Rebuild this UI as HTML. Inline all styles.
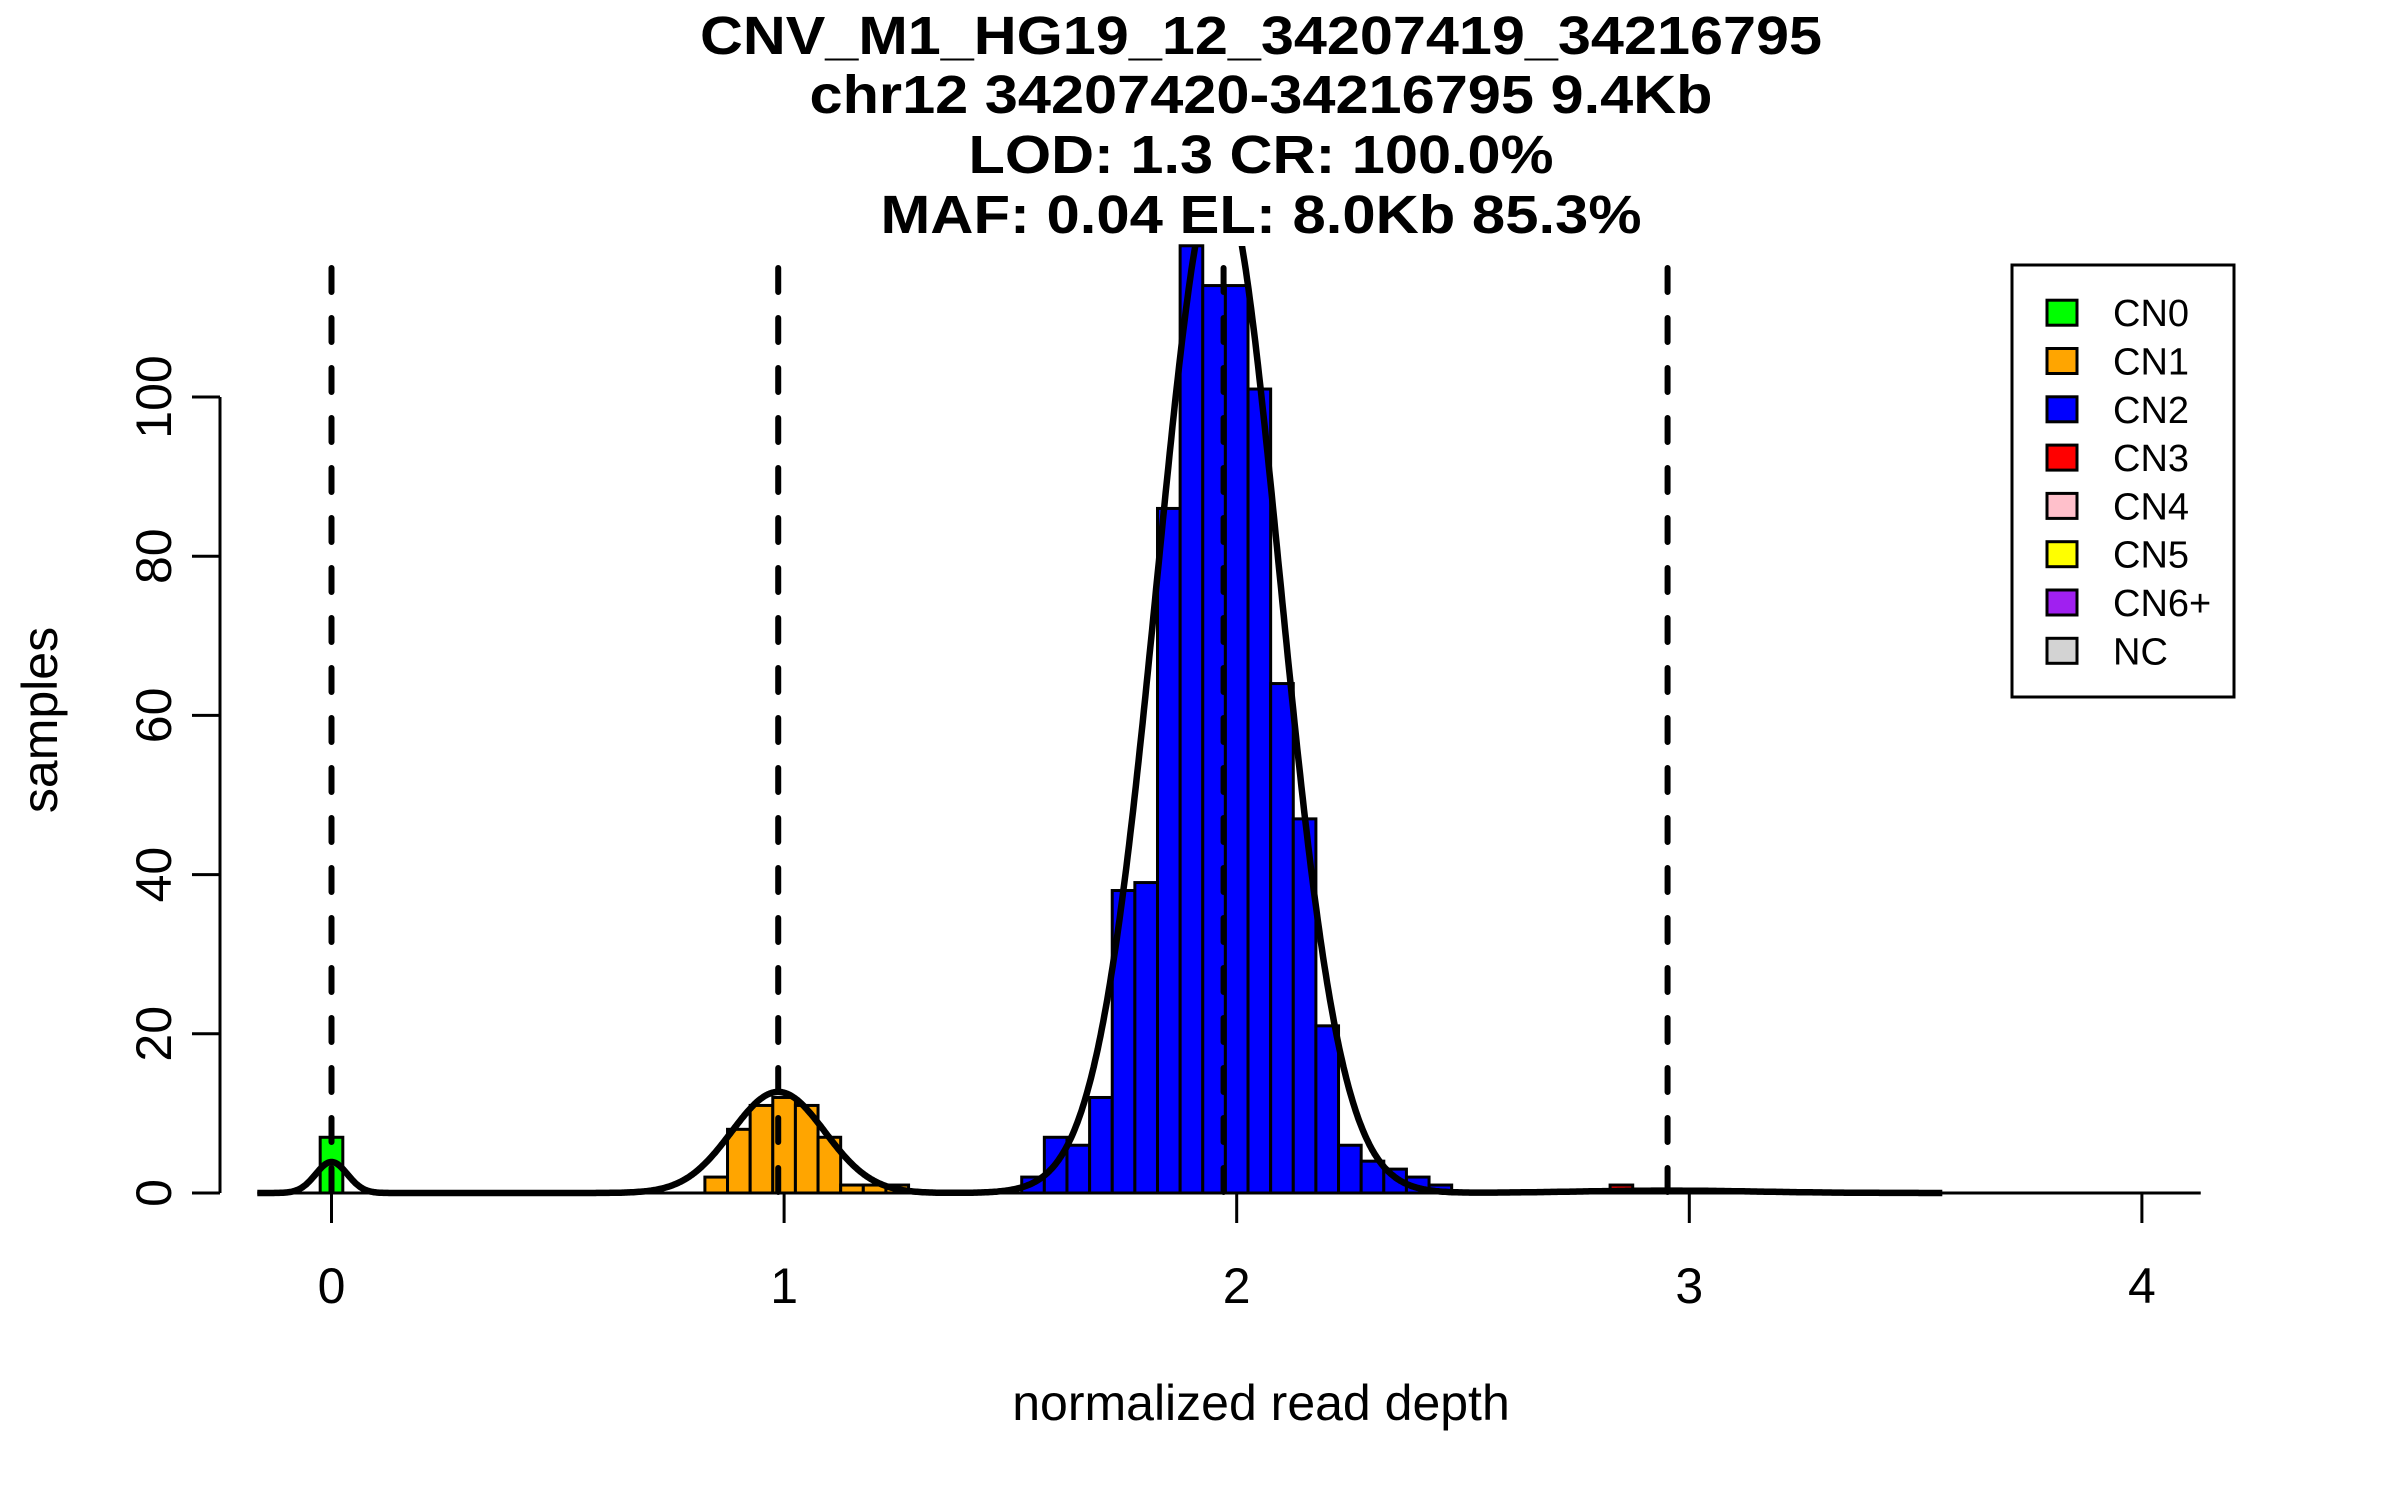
<!DOCTYPE html>
<html><head><meta charset="utf-8"><style>
html,body{margin:0;padding:0;background:#fff;}
svg{display:block;font-family:"Liberation Sans",Arial,sans-serif;}
</style></head><body>
<svg id="chart" width="2400" height="1500" viewBox="0 0 2400 1500" xmlns="http://www.w3.org/2000/svg">
<rect width="2400" height="1500" fill="#fff"/>
<g font-weight="bold" font-size="54" text-anchor="middle" fill="#000">
<text x="1261" y="54" textLength="1122" lengthAdjust="spacingAndGlyphs">CNV_M1_HG19_12_34207419_34216795</text>
<text x="1261" y="113" textLength="903" lengthAdjust="spacingAndGlyphs">chr12 34207420-34216795 9.4Kb</text>
<text x="1261" y="173" textLength="585" lengthAdjust="spacingAndGlyphs">LOD: 1.3 CR: 100.0%</text>
<text x="1261" y="233" textLength="761" lengthAdjust="spacingAndGlyphs">MAF: 0.04 EL: 8.0Kb 85.3%</text>
</g>
<defs><clipPath id="pclip"><rect x="0" y="246" width="2400" height="1000"/></clipPath></defs>
<g id="bars"></g>
<g id="dens"></g>
<g id="vlines"></g>
<g id="axes"></g>
<text x="1261" y="1420" font-size="50" text-anchor="middle">normalized read depth</text>
<text transform="translate(57,720) rotate(-90)" font-size="50" text-anchor="middle">samples</text>
<g>
<rect x="2012" y="265" width="222" height="432" fill="#fff" stroke="#000" stroke-width="3"/>
<g id="legend"></g>
</g>
</svg>
<script>
const binWidth = 0.05;
const cn0Start = -0.025;
const cn0Counts = [7];
const cn1Start = 0.825;
const cn1Counts = [2, 8, 11, 12, 11, 7, 1, 1, 1];
const cn2Start = 1.525;
const cn2Counts = [2, 7, 6, 12, 38, 39, 86, 119, 114, 114, 101, 64, 47, 21, 6, 4, 3, 2, 1];
const cn3Start = 2.825;
const cn3Counts = [1];
const compMeans = [0, 0.987, 1.96, 2.95];
const compSd = [0.035, 0.103, 0.135, 0.2];
const compAmp = [3.9, 12.7, 128, 0.3];
const cnLines = [0, 0.987, 1.971, 2.952];
const xTicks = [0, 1, 2, 3, 4];
const yTicks = [0, 20, 40, 60, 80, 100];
const legendLabels = ["CN0","CN1","CN2","CN3","CN4","CN5","CN6+","NC"];
const legendColors = ["#00ff00","#ffa500","#0000ff","#ff0000","#ffc0cb","#ffff00","#a020f0","#d3d3d3"];

const NS = "http://www.w3.org/2000/svg";
const X0 = 331.5, XU = 452.6, Y0 = 1193, YU = 7.96;
const xs = v => X0 + v * XU;
const ys = v => Y0 - v * YU;
function mk(tag, attrs, parent){ const e = document.createElementNS(NS, tag); for (const k in attrs) e.setAttribute(k, attrs[k]); parent.appendChild(e); return e; }

const bars = document.getElementById('bars');
function drawHist(start, counts, color, cname){
  counts.forEach((c, i) => {
    const x1 = xs(start + i * binWidth), x2 = xs(start + (i + 1) * binWidth);
    const r = mk('rect', {x: x1, y: ys(c), width: x2 - x1, height: ys(0) - ys(c), fill: color, stroke: '#000', 'stroke-width': 3}, bars);
    
    
  });
}
drawHist(cn0Start, cn0Counts, '#00ff00', 'cn0');
drawHist(cn1Start, cn1Counts, '#ffa500', 'cn1');
drawHist(cn2Start, cn2Counts, '#0000ff', 'cn2');
drawHist(cn3Start, cn3Counts, '#ff0000', 'cn3');

const dens = document.getElementById('dens');
const base = mk('line', {x1: xs(-0.164), x2: xs(4.13), y1: ys(0), y2: ys(0), stroke: '#000', 'stroke-width': 3}, dens);


let d = '';
for (let v = -0.164; v <= 3.56; v += 0.003) {
  let s = 0;
  for (let k = 0; k < compMeans.length; k++) s += compAmp[k] * Math.exp(-Math.pow(v - compMeans[k], 2) / (2 * compSd[k] * compSd[k]));
  d += (d ? 'L' : 'M') + xs(v).toFixed(1) + ' ' + ys(s).toFixed(1);
}
const curve = mk('path', {d: d, fill: 'none', stroke: '#000', 'stroke-width': 6.5, 'stroke-linejoin': 'round', 'clip-path': 'url(#pclip)'}, dens);



const vl = document.getElementById('vlines');
cnLines.forEach(v => {
  const l = mk('line', {x1: xs(v), x2: xs(v), y1: 268, y2: ys(0), stroke: '#000', 'stroke-width': 6, 'stroke-dasharray': '24 26', 'stroke-linecap': 'round'}, vl);
  
  
});

const ax = document.getElementById('axes');
const yl = mk('line', {x1: 220, x2: 220, y1: ys(100), y2: ys(0), stroke: '#000', 'stroke-width': 3}, ax);


yTicks.forEach(t => {
  const tk = mk('line', {x1: 192, x2: 220, y1: ys(t), y2: ys(t), stroke: '#000', 'stroke-width': 3}, ax);
  
  
  const tx = mk('text', {transform: 'translate(171,' + ys(t) + ') rotate(-90)', 'font-size': 50, 'text-anchor': 'middle'}, ax);
  tx.textContent = String(t);
  
  
});
xTicks.forEach(t => {
  const tk = mk('line', {x1: xs(t), x2: xs(t), y1: ys(0), y2: 1223, stroke: '#000', 'stroke-width': 3}, ax);
  
  
  const tx = mk('text', {x: xs(t), y: 1303, 'font-size': 50, 'text-anchor': 'middle'}, ax);
  tx.textContent = String(t);
  
  
});

const lg = document.getElementById('legend');
legendLabels.forEach((lab, i) => {
  const cy = 312.7 + i * 48.3;
  const sw = mk('rect', {x: 2047, y: cy - 12.5, width: 30, height: 25, fill: legendColors[i], stroke: '#000', 'stroke-width': 3}, lg);
  
  
  const tx = mk('text', {x: 2113, y: cy + 13.5, 'font-size': 38}, lg);
  tx.textContent = lab;
  
  
});
</script>
</body></html>
